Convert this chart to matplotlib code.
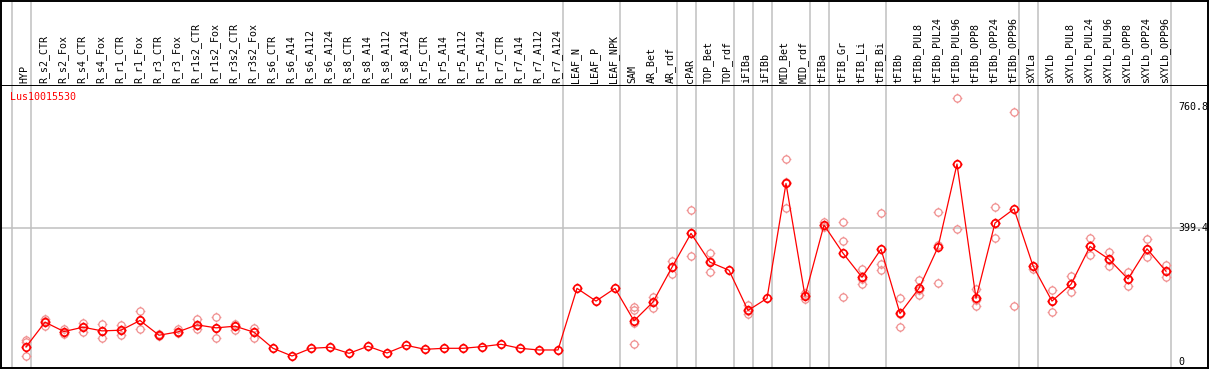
from matplotlib import pyplot as plt
from matplotlib.path import Path
import numpy as np

labels = ["HYP", "R_s2_CTR", "R_s2_Fox", "R_s4_CTR", "R_s4_Fox", "R_r1_CTR", "R_r1_Fox",
          "R_r3_CTR", "R_r3_Fox", "R_r1s2_CTR", "R_r1s2_Fox", "R_r3s2_CTR", "R_r3s2_Fox",
          "R_s6_CTR", "R_s6_A14", "R_s6_A112", "R_s6_A124", "R_s8_CTR", "R_s8_A14",
          "R_s8_A112", "R_s8_A124", "R_r5_CTR", "R_r5_A14", "R_r5_A112", "R_r5_A124",
          "R_r7_CTR", "R_r7_A14", "R_r7_A112", "R_r7_A124", "LEAF_N", "LEAF_P", "LEAF_NPK",
          "SAM", "AR_Bet", "AR_rdf", "cPAR", "TOP_Bet", "TOP_rdf", "iFIBa", "iFIBb",
          "MID_Bet", "MID_rdf", "tFIBa", "tFIB_Gr", "tFIB_Li", "tFIB_Bi", "tFIBb",
          "tFIBb_PUL8", "tFIBb_PUL24", "tFIBb_PUL96", "tFIBb_OPP8", "tFIBb_OPP24",
          "tFIBb_OPP96", "sXYLa", "sXYLb", "sXYLb_PUL8", "sXYLb_PUL24", "sXYLb_PUL96",
          "sXYLb_OPP8", "sXYLb_OPP24", "sXYLb_OPP96"]

means = [44, 118, 90, 103, 92, 94, 123, 79, 89, 110, 101, 106, 88,
         40, 17, 40, 43, 25, 46, 26, 49, 37, 40, 40, 45, 52, 40, 35, 35,
         219, 181, 219, 122, 178, 282, 383, 297, 273, 153, 189, 532, 196,
         408, 324, 252, 336, 144, 219, 342, 590, 189, 414, 456,
         286, 181, 231, 344, 306, 247, 337, 270]

replicates = [[65, 59, 18], [127, 121, 107], [98, 90, 83], [116, 103, 90], [112, 92, 70],
              [110, 94, 81], [150, 123, 97], [82, 79, 76], [97, 89, 85], [127, 110, 97],
              [132, 102, 70], [112, 106, 95], [100, 88, 71],
              [], [], [], [], [], [], [], [], [], [], [], [], [], [], [], [],
              [], [], [], [162, 154, 115, 52], [194, 178, 161], [301, 283, 261],
              [452, 383, 315], [324, 300, 267], [], [169, 150, 141], [],
              [604, 536, 458], [204, 198, 186], [416, 407, 401], [416, 359, 192],
              [277, 248, 231], [443, 292, 273], [189, 141, 103], [244, 215, 198],
              [446, 347, 234], [786, 395], [217, 185, 166], [462, 414, 368], [745, 166],
              [286, 277], [213, 181, 148], [256, 231, 207], [368, 344, 319],
              [327, 305, 287], [269, 247, 225], [365, 337, 313], [289, 270, 252]]

# separators sit just after these categories (-1 = before the first one)
group_ends = [-1, 0, 28, 31, 34, 35, 37, 38, 39, 41, 42, 45, 52, 53, 60]
y_ticks = [0, 399.4, 760.8]
gene = "Lus10015530"

plt.rcParams['font.family'] = 'DejaVu Sans Mono'


def spiky_circle():
    # open circle with four short ticks, like the original markers
    t = np.linspace(0, 2 * np.pi, 33)
    ring = np.column_stack([np.cos(t), np.sin(t)])
    codes = [Path.MOVETO] + [Path.LINETO] * 32
    parts = [Path(ring, codes)]
    for dx, dy in [(0, 1), (0, -1), (1, 0), (-1, 0)]:
        parts.append(Path([[dx, dy], [dx * 1.35, dy * 1.35]], [Path.MOVETO, Path.LINETO]))
    return Path.make_compound_path(*parts)


def main():
    W, H = 1209, 370
    fig = plt.figure(figsize=(W / 100, H / 100), dpi=100)
    right = 1207.5
    x0 = -26 / 19
    x1 = (right - 26) / 19
    ax = fig.add_axes([0.5 / W, (H - 368) / H, (right - 0.5) / W, (368 - 85) / H])
    hx = fig.add_axes([0.5 / W, (H - 85) / H, (right - 0.5) / W, 84.5 / H])
    for a in (ax, hx):
        a.set_xlim(x0 + 0.5 / 19, x1)
        a.set_xticks([])
        a.set_yticks([])
        for s in a.spines.values():
            s.set_linewidth(1.4)
            s.set_color('black')
    hx.spines['bottom'].set_visible(False)
    hx.set_ylim(0, 1)
    ax.set_ylim((361.7 - 368) / 0.335, (361.7 - 85) / 0.335)

    xs = np.arange(len(labels))
    for k in group_ends:
        for a in (ax, hx):
            a.axvline(k + 0.24, color='#c0c0c0', lw=1.1, zorder=0)
    ax.axhline(y_ticks[1], color='#c0c0c0', lw=1.1, zorder=0)

    marker = spiky_circle()
    for i, reps in enumerate(replicates):
        if reps:
            ax.plot([xs[i]] * len(reps), reps, linestyle='none', marker=marker,
                    markersize=7.0, markerfacecolor='none', markeredgecolor='#f09090',
                    markeredgewidth=0.9, zorder=2)
    ax.plot(xs, means, color='#ff0000', lw=0.9, marker=marker, markersize=7.2,
            markerfacecolor='none', markeredgecolor='#ff0000', markeredgewidth=1.2, zorder=3)

    for i, lab in enumerate(labels):
        hx.text(xs[i] - 1.5 / 19, 2 / 85, lab, rotation=90, ha='center', va='bottom',
                fontsize=7.2, color='black')

    tr = ax.get_yaxis_transform()
    for v in y_ticks:
        ax.text(1178 / right, v, f"{v:g}", transform=tr, ha='left', va='center',
                fontsize=7.2, clip_on=False, zorder=5)

    fig.text(10 / W, 1 - 97 / H, gene, color='#ff0000', fontsize=7.2, ha='left', va='center')

    fig.savefig('out.png', dpi=100)


if __name__ == "__main__":
    main()
